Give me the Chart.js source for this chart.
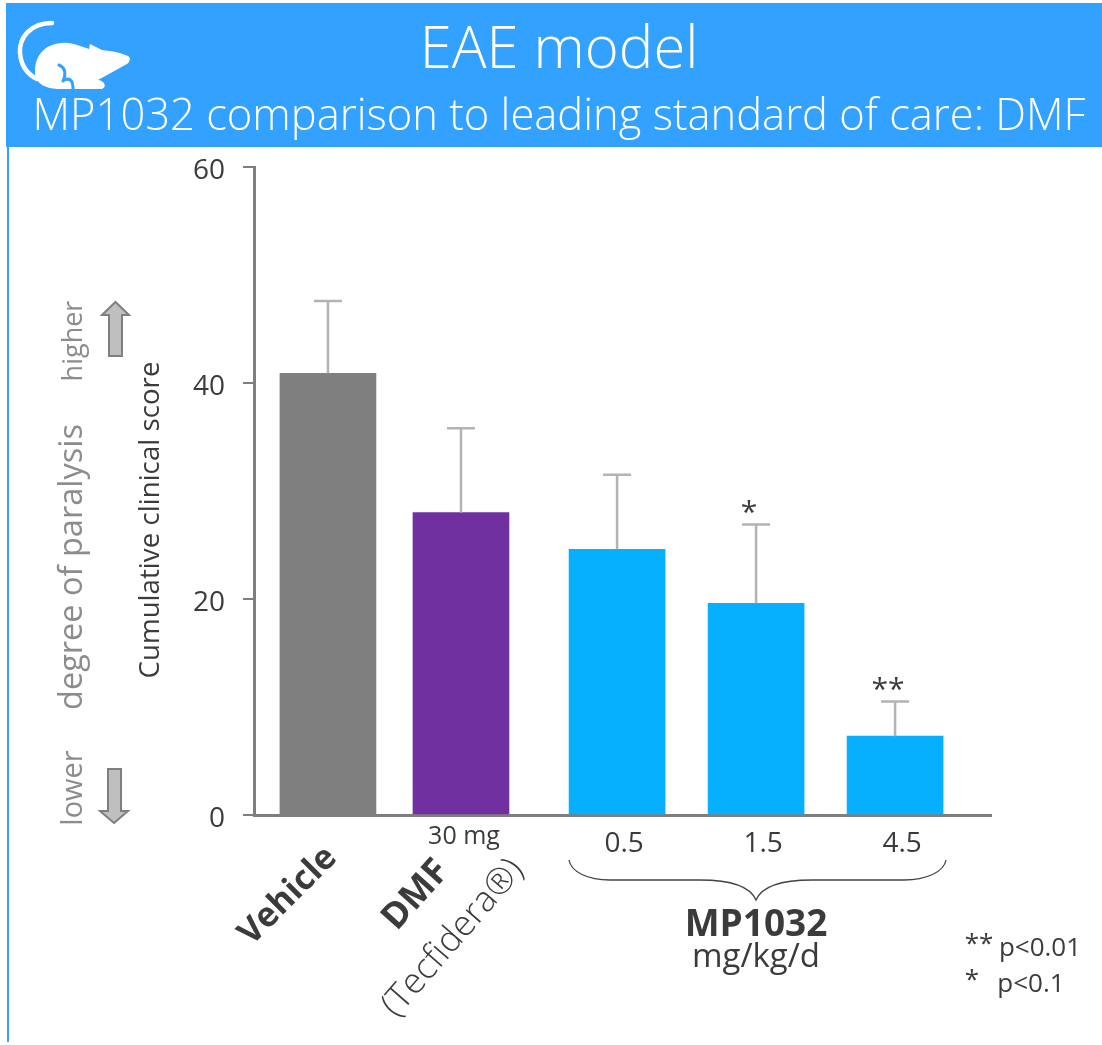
<!DOCTYPE html>
<html>
<head>
<meta charset="utf-8">
<title>EAE model</title>
<script src="https://cdn.jsdelivr.net/npm/chart.js@4/dist/chart.umd.min.js"></script>
<style>
  html, body { margin: 0; padding: 0; background: #fff; }
  canvas { display: block; }
</style>
</head>
<body>
<canvas id="eaeChart" width="1102" height="1045"></canvas>
<script>
// valores
var categories = ['Vehicle', 'DMF', '0.5', '1.5', '4.5'];
var scores = [40.9, 28.0, 24.6, 19.6, 7.3];
var errorTops = [47.6, 35.8, 31.5, 26.9, 10.5];
var significance = ['', '', '', '*', '**'];
var yTicks = [0, 20, 40, 60];
var doseLabels = ['', '', '0.5', '1.5', '4.5'];
var barSlots = [0.532, 1.489, 2.612, 3.612, 4.612];
var barColors = ['#7f7f7f', '#7030a0', '#07b0ff', '#07b0ff', '#07b0ff'];

var FONT = '"Open Sans", sans-serif';
var DARK = '#3b3b3b';
var SOFT = '#8c8c8c';
var HEADER = '#33a1ff';

function putText(ctx, str, x, y, font, color, angle) {
    ctx.save();
    ctx.translate(x, y);
    if (angle) ctx.rotate(angle * Math.PI / 180);
    ctx.font = font + ' ' + FONT;
    ctx.fillStyle = color;
    ctx.textAlign = 'center';
    ctx.textBaseline = 'middle';
    ctx.fillText(str, 0, 0);
    ctx.restore();
}

function drawRat(ctx) {
    ctx.save();
    ctx.strokeStyle = '#fff';
    ctx.fillStyle = '#fff';
    ctx.lineCap = 'round';
    ctx.lineWidth = 4.5;
    ctx.beginPath();
    ctx.moveTo(52, 23);
    ctx.bezierCurveTo(30, 23, 19, 38, 20, 53);
    ctx.bezierCurveTo(21, 66, 27, 74, 37, 79);
    ctx.stroke();

    ctx.beginPath();
    ctx.moveTo(35, 72);
    ctx.bezierCurveTo(35, 54, 46, 44, 62, 43);
    ctx.bezierCurveTo(72, 42, 82, 47, 89, 49);
    ctx.lineTo(90, 44);
    ctx.lineTo(102, 50);
    ctx.bezierCurveTo(112, 51, 122, 53, 128, 56);
    ctx.bezierCurveTo(131, 58, 130, 62, 127, 64);
    ctx.lineTo(98, 80);
    ctx.bezierCurveTo(105, 81, 107, 87, 102, 89);
    ctx.lineTo(60, 89);
    ctx.bezierCurveTo(48, 89, 35, 85, 35, 72);
    ctx.closePath();
    ctx.fill();

    // muesca de la pata trasera
    ctx.strokeStyle = HEADER;
    ctx.lineWidth = 3;
    ctx.beginPath();
    ctx.moveTo(59, 65);
    ctx.bezierCurveTo(66, 68, 66, 75, 63, 81);
    ctx.moveTo(64, 80);
    ctx.bezierCurveTo(71, 77, 73, 82, 73, 89);
    ctx.stroke();
    ctx.restore();
}

function drawArrow(ctx, left, right, headLeft, headRight, tip, headBase, tail) {
    var mid = (headLeft + headRight) / 2;
    ctx.save();
    ctx.fillStyle = '#bfbfbf';
    ctx.strokeStyle = '#7f7f7f';
    ctx.lineWidth = 2;
    ctx.beginPath();
    ctx.moveTo(mid, tip);
    ctx.lineTo(headRight, headBase);
    ctx.lineTo(right, headBase);
    ctx.lineTo(right, tail);
    ctx.lineTo(left, tail);
    ctx.lineTo(left, headBase);
    ctx.lineTo(headLeft, headBase);
    ctx.closePath();
    ctx.fill();
    ctx.stroke();
    ctx.restore();
}

function drawBrace(ctx) {
    ctx.save();
    ctx.strokeStyle = '#444';
    ctx.lineWidth = 1.3;
    ctx.beginPath();
    ctx.moveTo(569, 860);
    ctx.bezierCurveTo(571, 872, 588, 880, 610, 880);
    ctx.lineTo(700, 880);
    ctx.bezierCurveTo(730, 880, 750, 886, 756, 900);
    ctx.bezierCurveTo(762, 886, 782, 880, 812, 880);
    ctx.lineTo(904, 880);
    ctx.bezierCurveTo(926, 880, 944, 872, 946, 860);
    ctx.stroke();
    ctx.restore();
}

// cabecera y linea lateral, por debajo de la grafica
var backdropPlugin = {
    id: 'backdrop',
    beforeDraw: function (chart) {
        var ctx = chart.ctx;
        ctx.save();
        ctx.fillStyle = HEADER;
        ctx.fillRect(6, 3, 1096, 144);
        ctx.fillRect(7, 147, 2, 895);
        ctx.restore();
        drawRat(ctx);
        putText(ctx, 'EAE model', 559, 51, '300 58px', '#fff');
        putText(ctx, 'MP1032 comparison to leading standard of care: DMF', 559, 118, '300 43.5px', '#fff');
    }
};

// barras de error (solo hacia arriba) y asteriscos
var errorBarsPlugin = {
    id: 'errorBars',
    afterDatasetsDraw: function (chart) {
        var ctx = chart.ctx;
        var x = chart.scales.x;
        var y = chart.scales.y;
        ctx.save();
        ctx.strokeStyle = '#b3b3b3';
        ctx.lineWidth = 2.5;
        errorTops.forEach(function (top, i) {
            var px = x.getPixelForValue(barSlots[i]);
            ctx.beginPath();
            ctx.moveTo(px, y.getPixelForValue(scores[i]));
            ctx.lineTo(px, y.getPixelForValue(top));
            ctx.moveTo(px - 14, y.getPixelForValue(top));
            ctx.lineTo(px + 14, y.getPixelForValue(top));
            ctx.stroke();
            if (significance[i]) {
                putText(ctx, significance[i], px - 7, y.getPixelForValue(top) - 11, '400 30px', DARK);
            }
        });
        ctx.restore();
    }
};

// rotulos fuera de los ejes
var notesPlugin = {
    id: 'notes',
    afterDraw: function (chart) {
        var ctx = chart.ctx;
        putText(ctx, 'Cumulative clinical score', 151, 520, '400 27.7px', DARK, -90);
        putText(ctx, 'higher', 74, 341, '400 27px', SOFT, -90);
        putText(ctx, 'degree of paralysis', 73, 567, '400 32.5px', SOFT, -90);
        putText(ctx, 'lower', 74, 788, '400 29px', SOFT, -90);
        drawArrow(ctx, 109, 122, 102, 129, 302, 315, 356);
        drawArrow(ctx, 108, 121, 100, 128, 823, 811, 769);

        putText(ctx, '30 mg', 464, 837, '400 25px', DARK);
        putText(ctx, categories[0], 288, 896, '700 34px', DARK, -45);
        putText(ctx, categories[1], 416, 895, '700 36px', DARK, -48);
        putText(ctx, '(Tecfidera\u00AE)', 453, 938, '300 35.5px', DARK, -49);

        drawBrace(ctx);
        putText(ctx, 'MP1032', 756, 925, '700 37px', DARK);
        putText(ctx, 'mg/kg/d', 756, 958, '400 33px', DARK);
        putText(ctx, '**', 979, 945, '400 26px', DARK);
        putText(ctx, 'p<0.01', 1040, 949, '400 26px', DARK);
        putText(ctx, '*', 972, 981, '400 26px', DARK);
        putText(ctx, 'p<0.1', 1031, 985, '400 26px', DARK);
    }
};

document.addEventListener('DOMContentLoaded', function () {
    var ctx = document.getElementById('eaeChart').getContext('2d');
    var points = barSlots.map(function (slot, i) {
        return { x: slot, y: scores[i] };
    });

    new Chart(ctx, {
        type: 'bar',
        data: {
            datasets: [{
                label: 'Cumulative clinical score',
                data: points,
                backgroundColor: barColors,
                barThickness: 96
            }]
        },
        plugins: [backdropPlugin, errorBarsPlugin, notesPlugin],
        options: {
            responsive: false,
            animation: false,
            layout: { padding: { top: 167, right: 111, bottom: 0, left: 0 } },
            plugins: {
                legend: { display: false },
                tooltip: { enabled: false }
            },
            scales: {
                x: {
                    type: 'linear',
                    offset: false,
                    min: 0,
                    max: 5.302,
                    afterBuildTicks: function (axis) {
                        axis.ticks = barSlots.map(function (slot) { return { value: slot }; });
                    },
                    afterFit: function (axis) { axis.height = 230; },
                    grid: { display: false },
                    border: { color: '#7f7f7f', width: 3 },
                    ticks: {
                        autoSkip: false,
                        maxRotation: 0,
                        padding: 4,
                        labelOffset: 7,
                        color: DARK,
                        font: { family: FONT, size: 28 },
                        callback: function (value, index) { return doseLabels[index]; }
                    }
                },
                y: {
                    min: 0,
                    max: 60,
                    afterBuildTicks: function (axis) {
                        axis.ticks = yTicks.map(function (v) { return { value: v }; });
                    },
                    afterFit: function (axis) { axis.width = 254; },
                    grid: { drawOnChartArea: false, color: '#7f7f7f', lineWidth: 2, tickLength: 11 },
                    border: { color: '#7f7f7f', width: 3 },
                    ticks: {
                        padding: 18,
                        labelOffset: 4,
                        color: DARK,
                        font: { family: FONT, size: 28 }
                    }
                }
            }
        }
    });
});
</script>
</body>
</html>
